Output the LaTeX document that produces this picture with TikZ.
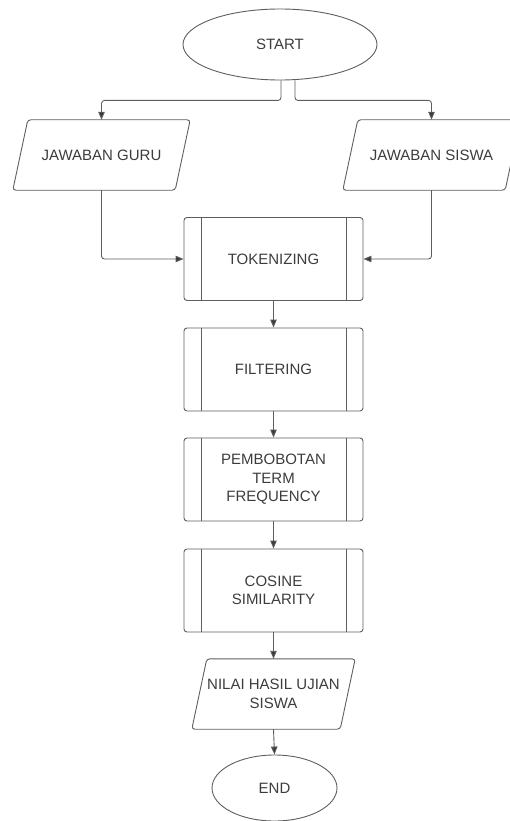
\documentclass[tikz,border=0pt]{standalone}
\usepackage{fontspec}
\setmainfont{Liberation Sans}
\usetikzlibrary{shapes.geometric,arrows.meta}
\definecolor{linec}{HTML}{5E5E5E}
\definecolor{textc}{HTML}{3C3C3C}
\definecolor{tipc}{HTML}{3A3A3A}
\begin{document}
\begin{tikzpicture}[x=1pt,y=-1pt,
  every node/.style={font=\fontsize{15}{18.5}\selectfont, text=textc, align=center},
  oval/.style={ellipse, draw=linec, line width=0.9pt, inner sep=0pt},
  procbox/.style={rectangle, draw=linec, line width=0.9pt, rounded corners=3pt,
    minimum width=179pt, minimum height=83pt, inner sep=0pt},
  paranode/.style={rectangle, draw=none, inner sep=0pt, minimum height=70pt},
  paraline/.style={draw=linec, line width=0.9pt, rounded corners=3pt},
  innerline/.style={draw=linec, line width=0.9pt},
  arr/.style={draw=linec, line width=0.9pt, rounded corners=3pt,
    -{Triangle[length=8pt,width=6.5pt,fill=tipc]}}
]
\useasboundingbox (0,0) rectangle (510,821);
\clip (0,0) rectangle (510,821);

\node[oval, minimum width=194pt, minimum height=71pt] (start) at (280,44.5) {START};
\node[paranode, minimum width=177pt] (guru) at (101.5,155) {JAWABAN GURU};
\node[paranode, minimum width=177pt] (siswa) at (431.5,155) {JAWABAN SISWA};
\node[procbox] (tok) at (273.5,259) {TOKENIZING};
\node[procbox] (fil) at (273.5,369.5) {FILTERING};
\node[procbox] (pem) at (273.5,479.5) {PEMBOBOTAN\\TERM\\FREQUENCY};
\node[procbox] (cos) at (273.5,590.5) {COSINE\\SIMILARITY};
\node[paranode, minimum width=163pt] (nilai) at (273.5,694) {NILAI HASIL UJIAN\\SISWA};
\node[oval, minimum width=125pt, minimum height=66pt] (end) at (274.5,788) {END};

% parallelogram outlines
\foreach \n in {guru,siswa,nilai}{
  \draw[paraline] (\n.south west) -- ([xshift=15pt]\n.north west) -- (\n.north east)
    -- ([xshift=-15pt]\n.south east) -- cycle;
}
% inner lines of predefined process boxes
\foreach \n in {tok,fil,pem,cos}{
  \draw[innerline] ([xshift=17.5pt]\n.north west) -- ([xshift=17.5pt]\n.south west);
  \draw[innerline] ([xshift=-17.5pt]\n.north east) -- ([xshift=-17.5pt]\n.south east);
}

% connectors
\draw[arr] ([xshift=1pt]start.south) -- ++(0,20) -| (guru.north);
\draw[arr] ([xshift=15pt]start.south) -- ++(0,20) -| (siswa.north);
\draw[arr] (guru.south) |- (tok.west);
\draw[arr] (siswa.south) |- (tok.east);
\draw[arr] (tok.south) -- (fil.north);
\draw[arr] (fil.south) -- (pem.north);
\draw[arr] (pem.south) -- (cos.north);
\draw[arr] (cos.south) -- (nilai.north);
\draw[arr] (nilai.south) -- (end.north);
\end{tikzpicture}
\end{document}
